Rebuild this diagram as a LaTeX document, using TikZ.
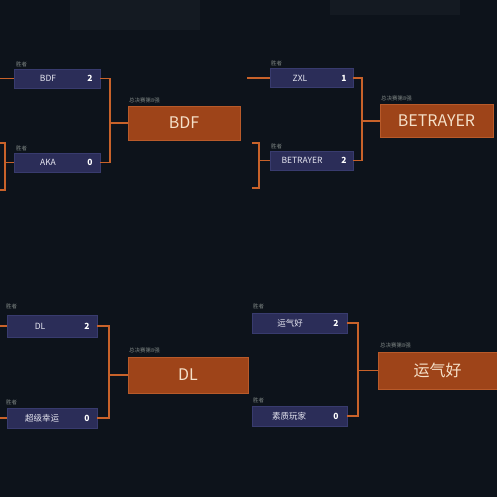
\documentclass[tikz,border=0pt]{standalone}
\usepackage{fontspec}
\setmainfont{Noto Sans CJK SC}
\definecolor{bg}{HTML}{0D131B}
\definecolor{teamfill}{HTML}{2B2D58}
\definecolor{teamedge}{HTML}{383B6E}
\definecolor{finfill}{HTML}{9E4419}
\definecolor{finedge}{HTML}{B85A2A}
\definecolor{conncol}{HTML}{C8622A}
\definecolor{fintext}{HTML}{F5E0C8}
\definecolor{labcol}{HTML}{7E8684}
\definecolor{teamtext}{HTML}{E8E8F2}
\tikzset{
  teambox/.style={draw=teamedge, fill=teamfill, line width=0.6pt, inner sep=0pt},
  finbox/.style={draw=finedge, fill=finfill, line width=0.8pt, inner sep=0pt},
  teamname/.style={text=teamtext, font=\fontsize{8.5}{9}\selectfont, inner sep=0pt},
  scoretxt/.style={text=white, font=\bfseries\fontsize{8.5}{9}\selectfont, inner sep=0pt},
  fintxt/.style={text=fintext, font=\fontsize{16}{18}\selectfont, inner sep=0pt},
  labtxt/.style={text=labcol, font=\fontsize{5.5}{6}\selectfont, inner sep=0pt, anchor=west},
  conn/.style={draw=conncol, line width=1.4pt},
}
\begin{document}
\begin{tikzpicture}[x=1pt,y=-1pt]
\fill[bg] (0,0) rectangle (497,497);
\useasboundingbox (0,0) rectangle (497,497);
\fill[white!3!bg] (70,0) rectangle (200,30);
\fill[white!3!bg] (330,0) rectangle (460,15);

% ---------- Panel 1
\node[teambox, minimum width=86, minimum height=19] (p1a) at (57,78.5) {};
\node[teambox, minimum width=86, minimum height=19] (p1b) at (57,162.5) {};
\node[teamname] (p1an) at (48,78.5) {BDF};
\node[scoretxt] (p1as) at (90,78.5) {2};
\node[teamname] (p1bn) at (48,162.5) {AKA};
\node[scoretxt] (p1bs) at (90,162.5) {0};
\node[labtxt] (p1al) at (16,64) {胜者};
\node[labtxt] (p1bl) at (16,148) {胜者};
\node[finbox, minimum width=112, minimum height=34] (p1f) at (184,123) {};
\node[fintxt] (p1ft) at (p1f) {BDF};
\node[labtxt] (p1fl) at (129,100.5) {总决赛第8强};
\coordinate (p1x) at (110,78.5);
\draw[conn] (p1a.east) -- (p1x) |- (p1b.east);
\draw[conn] (p1x |- p1f.west) -- (p1f.west);
\coordinate (p1in) at (0,78.5);
\draw[conn] (p1in) -- (p1a.west);
\coordinate (p1t) at (0,143);
\coordinate (p1u) at (0,190);
\draw[conn] (p1t) -- ++(5,0) -- ++(0,47) -- (p1u);
\draw[conn] (5,162.5) -- (p1b.west);

% ---------- Panel 2
\node[teambox, minimum width=83, minimum height=19] (p2a) at (311.5,78) {};
\node[teambox, minimum width=83, minimum height=19] (p2b) at (311.5,160.5) {};
\node[teamname] (p2an) at (300,78) {ZXL};
\node[scoretxt] (p2as) at (344,78) {1};
\node[teamname] (p2bn) at (302,160.5) {BETRAYER};
\node[scoretxt] (p2bs) at (344,160.5) {2};
\node[labtxt] (p2al) at (271,63.5) {胜者};
\node[labtxt] (p2bl) at (271,146) {胜者};
\node[finbox, minimum width=113, minimum height=33] (p2f) at (436.5,121) {};
\node[fintxt] (p2ft) at (p2f) {BETRAYER};
\node[labtxt] (p2fl) at (381,98.5) {总决赛第8强};
\coordinate (p2x) at (362,78);
\draw[conn] (p2a.east) -- (p2x) |- (p2b.east);
\draw[conn] (p2x |- p2f.west) -- (p2f.west);
\coordinate (p2in) at (247,78);
\draw[conn] (p2in) -- (p2a.west);
\coordinate (p2t) at (252,143);
\coordinate (p2u) at (252,188);
\draw[conn] (p2t) -- ++(7,0) -- ++(0,45) -- (p2u);
\draw[conn] (259,160.5) -- (p2b.west);

% ---------- Panel 3
\node[teambox, minimum width=90, minimum height=22] (p3a) at (52,326) {};
\node[teambox, minimum width=90, minimum height=20] (p3b) at (52,418) {};
\node[teamname] (p3an) at (40,326) {DL};
\node[scoretxt] (p3as) at (87,326) {2};
\node[teamname] (p3bn) at (42,418) {超级幸运};
\node[scoretxt] (p3bs) at (87,418) {0};
\node[labtxt] (p3al) at (6,306.5) {胜者};
\node[labtxt] (p3bl) at (6,402.5) {胜者};
\node[finbox, minimum width=120, minimum height=36] (p3f) at (188,375) {};
\node[fintxt] (p3ft) at (p3f) {DL};
\node[labtxt] (p3fl) at (129,350.5) {总决赛第8强};
\coordinate (p3x) at (109,326);
\draw[conn] (p3a.east) -- (p3x) |- (p3b.east);
\draw[conn] (p3x |- p3f.west) -- (p3f.west);
\coordinate (p3in) at (0,326);
\draw[conn] (p3in) -- (p3a.west);
\coordinate (p3in2) at (0,418);
\draw[conn] (p3in2) -- (p3b.west);

% ---------- Panel 4
\node[teambox, minimum width=95, minimum height=20] (p4a) at (299.5,323) {};
\node[teambox, minimum width=95, minimum height=20] (p4b) at (299.5,416) {};
\node[teamname] (p4an) at (290,323) {运气好};
\node[scoretxt] (p4as) at (336,323) {2};
\node[teamname] (p4bn) at (289,416) {素质玩家};
\node[scoretxt] (p4bs) at (336,416) {0};
\node[labtxt] (p4al) at (253,306) {胜者};
\node[labtxt] (p4bl) at (253,400) {胜者};
\node[finbox, minimum width=119, minimum height=37] (p4f) at (437.5,370.5) {};
\node[fintxt] (p4ft) at (p4f) {运气好};
\node[labtxt] (p4fl) at (380,345) {总决赛第8强};
\coordinate (p4x) at (358,323);
\draw[conn] (p4a.east) -- (p4x) |- (p4b.east);
\draw[conn] (p4x |- p4f.west) -- (p4f.west);
\end{tikzpicture}
\end{document}
